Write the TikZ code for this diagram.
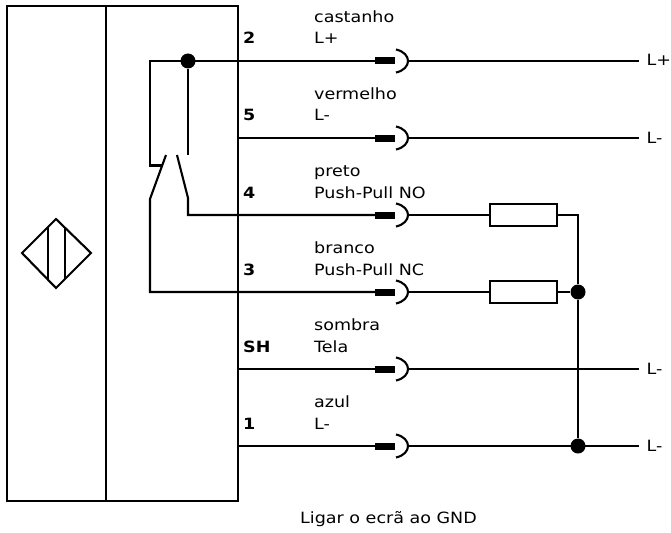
\documentclass[tikz,border=0pt]{standalone}
\usepackage{fontspec}
\setmainfont[FakeStretch=1.13]{DejaVu Sans}
\tikzset{
wire/.style={line width=2.1pt, line join=miter},
housing/.style={line width=2.5pt},
junction/.style={circle, fill=black, inner sep=0pt, minimum size=15pt},
plugbar/.style={rectangle, fill=black, inner sep=0pt, minimum width=20pt, minimum height=7pt},
resistor/.style={rectangle, draw, line width=2.1pt, fill=white, inner sep=0pt, minimum width=67pt, minimum height=22pt},
label/.style={inner sep=0pt, anchor=base west, font=\fontsize{15.5}{18}\selectfont},
pin/.style={inner sep=0pt, anchor=base west, font=\fontsize{15.5}{18}\selectfont\bfseries}
}

\begin{document}
\begin{tikzpicture}[x=1pt,y=-1pt]
\useasboundingbox (0,0) rectangle (671,532);

\draw[housing] (7,6) rectangle (238,501);
\draw[housing] (106,6) -- (106,501);

% sensor symbol
\draw[wire] (56,219) -- (91,253) -- (56,288) -- (22,253) -- cycle;
\draw[wire] (48,227) -- (48,280);
\draw[wire] (65,227) -- (65,279);

% rows
\coordinate (p5) at (238,138);
\coordinate (pSH) at (238,369);
\coordinate (p1) at (238,446);
\node[plugbar] (b2) at (385,61) {};
\node[plugbar] (b5) at (385,138) {};
\node[plugbar] (b4) at (385,215) {};
\node[plugbar] (b3) at (385,292) {};
\node[plugbar] (bSH) at (385,369) {};
\node[plugbar] (b1) at (385,446) {};
\coordinate (s2) at (407,61);
\coordinate (s5) at (407,138);
\coordinate (s4) at (407,215);
\coordinate (s3) at (407,292);
\coordinate (sSH) at (407,369);
\coordinate (s1) at (407,446);
\coordinate (e2) at (639,61);
\coordinate (e5) at (639,138);
\coordinate (eSH) at (639,369);
\coordinate (e1) at (639,446);

% switch
\node[junction] (top) at (188,61) {};
\coordinate (loop) at (150,61);
\coordinate (nc) at (150,199);
\coordinate (nc2) at (150,292);
\coordinate (no) at (188,198);
\coordinate (no2) at (188,215);
\draw[wire] (b2) -- (loop) -- (150,165.5) -- (162,165.5);
\draw[wire] (top) -- (188,154.5);
\draw[wire] (166,155) -- (nc) -- (nc2) -- (b3);
\draw[wire] (177,155) -- (no) -- (no2) -- (b4);

% wires
\draw[wire] (p5) -- (b5);
\draw[wire] (pSH) -- (bSH);
\draw[wire] (p1) -- (b1);

% plugs
\draw[wire] (396,49.5) .. controls (412,53) and (412,69) .. (396,72.5);
\draw[wire] (396,126.5) .. controls (412,130) and (412,146) .. (396,149.5);
\draw[wire] (396,203.5) .. controls (412,207) and (412,223) .. (396,226.5);
\draw[wire] (396,280.5) .. controls (412,284) and (412,300) .. (396,303.5);
\draw[wire] (396,357.5) .. controls (412,361) and (412,377) .. (396,380.5);
\draw[wire] (396,434.5) .. controls (412,438) and (412,454) .. (396,457.5);

\node[resistor] (r4) at (523.5,215) {};
\node[resistor] (r3) at (523.5,292) {};
\node[junction] (j3) at (578,292) {};
\node[junction] (j1) at (578,446) {};
\coordinate (c4) at (578,215);

\draw[wire] (s2) -- (e2);
\draw[wire] (s5) -- (e5);
\draw[wire] (s4) -- (r4);
\draw[wire] (s3) -- (r3);
\draw[wire] (sSH) -- (eSH);
\draw[wire] (s1) -- (e1);
\draw[wire] (r4) -- (c4) -- (j3);
\draw[wire] (r3) -- (j3);
\draw[wire] (j3) -- (j1);

% texts
\node[pin] (n2) at (243,44) {2};
\node[pin] (n5) at (243,121) {5};
\node[pin] (n4) at (243,198) {4};
\node[pin] (n3) at (243,275) {3};
\node[pin] (nSH) at (243,352) {SH};
\node[pin] (n1) at (243,429) {1};

\node[label] (c2) at (314,22.5) {castanho};
\node[label] (t2) at (314,44) {L+};
\node[label] (c5) at (314,99.5) {vermelho};
\node[label] (t5) at (314,121) {L-};
\node[label] (c4t) at (314,176.5) {preto};
\node[label] (t4) at (314,198) {Push-Pull NO};
\node[label] (c3) at (314,253.5) {branco};
\node[label] (t3) at (314,275) {Push-Pull NC};
\node[label] (cSH) at (314,330.5) {sombra};
\node[label] (tSH) at (314,352) {Tela};
\node[label] (c1) at (314,407.5) {azul};
\node[label] (t1) at (314,429) {L-};

\node[label] (l2) at (646.5,66) {L+};
\node[label] (l5) at (646.5,143) {L-};
\node[label] (lSH) at (646.5,374) {L-};
\node[label] (l1) at (646.5,451) {L-};

\node[label] (gnd) at (300,523) {Ligar o ecrã ao GND};
\end{tikzpicture}
\end{document}
